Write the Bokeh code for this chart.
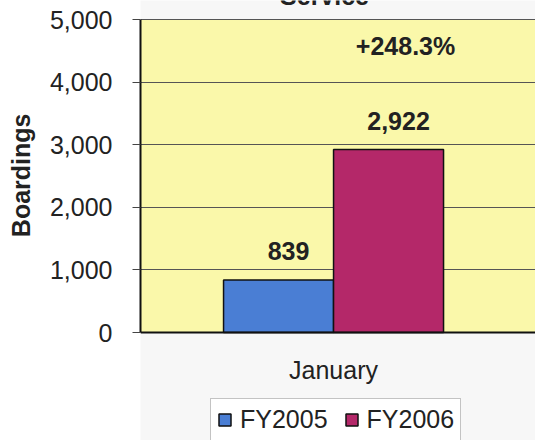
from bokeh.plotting import figure
from bokeh.models import (ColumnDataSource, Range1d, FixedTicker, NumeralTickFormatter,
                          LabelSet, Label, Legend, LegendItem, BoxAnnotation, Span)
from bokeh.transform import dodge
from bokeh.core.properties import value
from bokeh.embed import file_html
from bokeh.resources import INLINE

# ---- data ----
categories = ["January"]
series = ["FY2005", "FY2006"]
fy2005 = [839]
fy2006 = [2922]
y_ticks = [0, 1000, 2000, 3000, 4000, 5000]
title_text = "Service"
y_label = "Boardings"

FONT = "Liberation Sans"
TXT = "#222222"
YELLOW = "#FAF8AA"
BLUE = "#4A7ED4"
RED = "#B42869"

xs = list(range(len(categories)))
src = ColumnDataSource(dict(
    x=xs,
    cat=categories,
    fy2005=fy2005,
    fy2006=fy2006,
    lab2005=[f"{v:,}" for v in fy2005],
    lab2006=[f"{v:,}" for v in fy2006],
))

# The frame spans the whole canvas height; the value axis 0..5000 occupies
# pixel rows 332..19, leaving room above for the (cut) title and below for
# the category label and legend.
span = y_ticks[-1] - y_ticks[0]
px_per_unit = 313 / span
y_start = y_ticks[0] - 108 / px_per_unit
y_end = y_ticks[-1] + 19 / px_per_unit

p = figure(width=535, height=440, output_backend="svg", toolbar_location=None,
           x_axis_location=None,
           x_range=Range1d(-1.755, 1.836), y_range=Range1d(y_start, y_end),
           min_border_left=140, min_border_right=0, min_border_top=0, min_border_bottom=0)
p.background_fill_color = "#F7F7F7"
p.border_fill_color = "white"
p.outline_line_color = None

# plot area fill (0 .. 5000)
p.add_layout(BoxAnnotation(bottom=y_ticks[0], top=y_ticks[-1], fill_color=YELLOW,
                           fill_alpha=1.0, line_color=None, level="image"))

r1 = p.vbar(x=dodge("x", -0.5), top="fy2005", width=1.0, source=src,
            fill_color=BLUE, line_color="#111111", line_width=1.5)
r2 = p.vbar(x=dodge("x", 0.5), top="fy2006", width=1.0, source=src,
            fill_color=RED, line_color="#111111", line_width=1.5)

# category axis line and label
p.add_layout(Span(location=y_ticks[0], dimension="width", line_color="#111111", line_width=2))
p.add_layout(LabelSet(x="x", y=value(y_ticks[0]), text="cat", source=src, y_offset=-46,
                      text_font=value(FONT), text_font_size="25px", text_color=TXT,
                      text_align="center", text_baseline="alphabetic"))

lab_kw = dict(text_font=value(FONT), text_font_size="25px", text_font_style="bold",
              text_color=TXT, text_align="center", text_baseline="bottom",
              x_offset=10, y_offset=20)
p.add_layout(LabelSet(x=dodge("x", -0.5), y="fy2005", text="lab2005", source=src, **lab_kw))
p.add_layout(LabelSet(x=dodge("x", 0.5), y="fy2006", text="lab2006", source=src, **lab_kw))

pct = (fy2006[0] - fy2005[0]) / fy2005[0] * 100
p.add_layout(Label(x=xs[0] + 0.5, y=4580, text=f"+{pct:.1f}%", x_offset=17,
                   text_font=FONT, text_font_size="25px", text_font_style="bold",
                   text_color=TXT, text_align="center", text_baseline="alphabetic"))

# partially visible chart title (cut by the top edge)
p.add_layout(Label(x=xs[0], y=y_ticks[-1] + 24 / px_per_unit, text=title_text, x_offset=-9,
                   text_font=FONT, text_font_size="25px", text_font_style="bold",
                   text_color=TXT, text_align="center", text_baseline="alphabetic"))

# y axis (label padded with leading no-break spaces so it centres on the 0..5,000 span)
p.yaxis.ticker = FixedTicker(ticks=y_ticks)
p.yaxis.bounds = (y_ticks[0], y_ticks[-1])
p.yaxis.formatter = NumeralTickFormatter(format="0,0")
p.yaxis.axis_label = "\u00a0" * 13 + y_label
p.yaxis.axis_label_text_font = FONT
p.yaxis.axis_label_text_font_size = "25px"
p.yaxis.axis_label_text_font_style = "bold"
p.yaxis.axis_label_text_color = TXT
p.yaxis.axis_label_standoff = 12
p.yaxis.major_label_text_font = FONT
p.yaxis.major_label_text_font_size = "25px"
p.yaxis.major_label_text_color = TXT
p.yaxis.major_label_standoff = 20
p.yaxis.major_tick_out = 8
p.yaxis.major_tick_in = 0
p.yaxis.minor_tick_line_color = None
p.yaxis.axis_line_color = "#111111"
p.yaxis.axis_line_width = 2
p.yaxis.major_tick_line_color = "#444444"

p.xgrid.grid_line_color = None
p.ygrid.ticker = FixedTicker(ticks=y_ticks)
p.ygrid.grid_line_color = "#555555"
p.ygrid.grid_line_width = 1

legend = Legend(items=[LegendItem(label=series[0], renderers=[r1]),
                       LegendItem(label=series[1], renderers=[r2])],
                orientation="horizontal", location=(70, -1),
                label_text_font=FONT, label_text_font_size="25px", label_text_color=TXT,
                glyph_width=15, glyph_height=15, label_standoff=8, spacing=16,
                padding=6, margin=0, border_line_color="#888888", border_line_width=1,
                background_fill_color="white", background_fill_alpha=1.0)
p.add_layout(legend)

open("out.html", "w").write(file_html(p, INLINE))
